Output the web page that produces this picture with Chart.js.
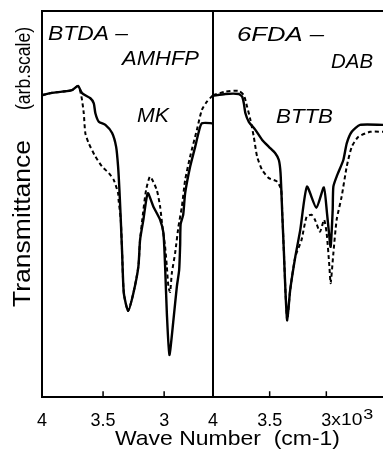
<!DOCTYPE html>
<html>
<head>
<meta charset="utf-8">
<script src="https://cdn.jsdelivr.net/npm/chart.js@4/dist/chart.umd.min.js"></script>
<style>
  html, body { margin: 0; padding: 0; background: #fff; }
  #wrap { position: relative; width: 383px; height: 462px; }
  canvas { display: block; }
</style>
</head>
<body>
<div id="wrap"><canvas id="c" width="383" height="462"></canvas></div>
<script>
// ---- Data (wave number in cm-1, transmittance in arbitrary units 0..100) ----
const tickValues = [4000, 3500, 3000];
const tickLabels = ['4', '3.5', '3'];

// Left panel: BTDA - AMHFP / MK
const leftSolidWn = [4000, 3918, 3836, 3754, 3705, 3672, 3604, 3576, 3563, 3535, 3481, 3426, 3393, 3377, 3366, 3355, 3344, 3330, 3295, 3252, 3211, 3197, 3170, 3134, 3088, 3033, 3006, 2992, 2978, 2957, 2924, 2896, 2877, 2869, 2865, 2844, 2828, 2787, 2746, 2719, 2691, 2600];
const leftSolidT  = [78.2, 78.8, 79.1, 79.5, 80.6, 78.7, 77.4, 76.1, 73.5, 71.3, 70.5, 68.4, 64.8, 59.7, 53.6, 45.9, 37.3, 26.9, 22.3, 26.9, 33.8, 40.7, 45.9, 52.8, 49.3, 45.9, 42.5, 33.8, 21.8, 10.9, 19.9, 28.6, 32.9, 39.4, 44.8, 47.2, 52.8, 59.7, 64.8, 68.4, 70.9, 70.9];

const leftDashWn = [4000, 3918, 3836, 3754, 3705, 3686, 3672, 3658, 3645, 3617, 3563, 3508, 3453, 3412, 3377, 3373, 3355, 3344, 3330, 3295, 3252, 3211, 3197, 3172, 3148, 3115, 3060, 3033, 3014, 2992, 2978, 2965, 2951, 2937, 2910, 2883, 2855, 2828, 2787, 2732, 2691, 2650, 2600];
const leftDashT  = [78.2, 78.8, 79.1, 79.5, 80.6, 79.1, 76.9, 73.5, 68.3, 65.7, 62.3, 59.7, 58.0, 56.2, 52.8, 51.0, 45.9, 37.3, 26.9, 22.3, 26.9, 33.8, 40.7, 47.9, 53.6, 57.1, 53.6, 49.3, 44.1, 38.9, 33.8, 28.6, 27.2, 32.1, 37.3, 44.1, 49.3, 56.2, 62.3, 69.2, 74.4, 76.5, 78.2];

// Right panel: 6FDA - DAB / BTTB
const rightSolidWn = [4000, 3891, 3773, 3743, 3728, 3714, 3684, 3626, 3566, 3507, 3449, 3419, 3404, 3389, 3374, 3360, 3345, 3319, 3274, 3230, 3171, 3088, 3022, 2994, 2982, 2962, 2944, 2938, 2909, 2850, 2820, 2776, 2702, 2500];
const rightSolidT  = [78.0, 78.5, 78.5, 77.8, 76.1, 73.5, 71.3, 69.2, 66.6, 64.8, 63.1, 61.4, 58.0, 47.6, 37.2, 26.9, 19.9, 27.7, 36.3, 43.3, 54.5, 49.0, 54.3, 47.6, 44.1, 38.9, 48.4, 54.5, 57.1, 61.4, 65.7, 68.7, 70.5, 70.5];

const rightDashWn = [4000, 3891, 3773, 3728, 3699, 3670, 3640, 3611, 3566, 3507, 3434, 3398, 3389, 3374, 3360, 3345, 3319, 3274, 3219, 3174, 3130, 3100, 3056, 3020, 2997, 2973, 2962, 2938, 2909, 2865, 2820, 2776, 2717, 2613, 2500];
const rightDashT  = [78.2, 79.1, 79.3, 78.2, 75.2, 71.8, 67.4, 62.3, 58.8, 56.7, 55.8, 53.6, 47.6, 37.2, 26.9, 19.9, 27.7, 36.3, 40.7, 46.7, 47.2, 45.9, 42.8, 45.9, 42.4, 33.8, 29.5, 37.2, 45.9, 51.9, 59.7, 64.8, 67.4, 68.7, 68.7];

const panelLabels = [
  { text: 'BTDA –', x: 48, y: 40, w: 80 },
  { text: 'AMHFP', x: 122, y: 64.5, w: 77 },
  { text: 'MK', x: 137, y: 122, w: 32 },
  { text: '6FDA –', x: 237, y: 41, w: 87 },
  { text: 'DAB', x: 331, y: 67.5, w: 42 },
  { text: 'BTTB', x: 276, y: 123, w: 57 }
];

function pts(xs, ys) { return xs.map((x, i) => ({ x: x, y: ys[i] })); }

function drawFit(ctx, text, x, y, width, font) {
  ctx.font = font;
  const m = ctx.measureText(text).width;
  ctx.save();
  ctx.translate(x, y);
  ctx.scale(width / m, 1);
  ctx.textAlign = 'left';
  ctx.textBaseline = 'alphabetic';
  ctx.fillText(text, 0, 0);
  ctx.restore();
}

const framePlugin = {
  id: 'frame',
  afterDraw(chart) {
    const ctx = chart.ctx;
    const a = chart.chartArea;
    const xL = chart.scales.xL, xR = chart.scales.xR;
    ctx.save();
    ctx.strokeStyle = '#000';
    ctx.lineWidth = 2;
    ctx.lineCap = 'square';
    ctx.beginPath();
    ctx.moveTo(a.left, a.top); ctx.lineTo(a.right, a.top);
    ctx.moveTo(a.left, a.top); ctx.lineTo(a.left, a.bottom);
    ctx.moveTo(a.left, a.bottom); ctx.lineTo(a.right, a.bottom);
    ctx.moveTo(xL.right, a.top); ctx.lineTo(xL.right, a.bottom);
    ctx.stroke();
    // inward tick marks
    ctx.lineWidth = 1.5;
    ctx.beginPath();
    [xL, xR].forEach(s => {
      [3500, 3000].forEach(v => {
        const px = s.getPixelForValue(v);
        ctx.moveTo(px, a.bottom);
        ctx.lineTo(px, a.bottom - 5);
      });
    });
    ctx.stroke();

    ctx.fillStyle = '#000';
    // panel labels
    panelLabels.forEach(l => drawFit(ctx, l.text, l.x, l.y, l.w, 'italic 21px "Liberation Sans", Arial, sans-serif'));

    // x10^3 next to last right tick
    const p3 = xR.getPixelForValue(3000);
    drawFit(ctx, 'x10', p3 + 5, 425, 31, '16px "Liberation Sans", Arial, sans-serif');
    drawFit(ctx, '3', p3 + 37, 419, 10, '15px "Liberation Sans", Arial, sans-serif');

    // x title
    drawFit(ctx, 'Wave Number  (cm-1)', 115, 445, 225, '21px "Liberation Sans", Arial, sans-serif');

    // y title (rotated)
    ctx.save();
    ctx.translate(30, 307);
    ctx.rotate(-Math.PI / 2);
    drawFit(ctx, 'Transmittance', 0, 0, 167, '23px "Liberation Sans", Arial, sans-serif');
    drawFit(ctx, '(arb.scale)', 197, 0, 83, '21px "Liberation Sans", Arial, sans-serif');
    ctx.restore();
    ctx.restore();
  }
};

function xScale(min, weight) {
  return {
    type: 'linear',
    position: 'bottom',
    stack: 'wn',
    stackWeight: weight,
    min: min,
    max: 4000,
    reverse: true,
    grid: { display: false, drawTicks: false },
    border: { display: false },
    afterBuildTicks: s => { s.ticks = tickValues.map(v => ({ value: v })); },
    afterFit: s => { s.height = 65; },
    ticks: {
      autoSkip: false,
      maxRotation: 0,
      padding: 13,
      color: '#000',
      font: { family: 'Liberation Sans', size: 18 },
      callback: v => { const i = tickValues.indexOf(v); return i >= 0 ? tickLabels[i] : ''; }
    }
  };
}

const solid = { borderColor: '#000', borderWidth: 2.4, pointRadius: 0, tension: 0.2, fill: false };
const dashed = { borderColor: '#000', borderWidth: 2, borderDash: [4, 3], pointRadius: 0, tension: 0.2, fill: false };

new Chart(document.getElementById('c'), {
  type: 'line',
  data: {
    datasets: [
      Object.assign({ label: 'BTDA-AMHFP', data: pts(leftSolidWn, leftSolidT), xAxisID: 'xL', yAxisID: 'y' }, solid),
      Object.assign({ label: 'MK', data: pts(leftDashWn, leftDashT), xAxisID: 'xL', yAxisID: 'y' }, dashed),
      Object.assign({ label: '6FDA-DAB', data: pts(rightSolidWn, rightSolidT), xAxisID: 'xR', yAxisID: 'y' }, solid),
      Object.assign({ label: 'BTTB', data: pts(rightDashWn, rightDashT), xAxisID: 'xR', yAxisID: 'y' }, dashed)
    ]
  },
  options: {
    responsive: false,
    animation: false,
    devicePixelRatio: 1,
    layout: { padding: { left: 42, top: 11, right: 0, bottom: 0 } },
    plugins: { legend: { display: false }, tooltip: { enabled: false } },
    scales: {
      xL: xScale(2600, 171),
      xR: xScale(2500, 170),
      y: { type: 'linear', display: false, min: 0, max: 100 }
    }
  },
  plugins: [framePlugin]
});
</script>
</body>
</html>
